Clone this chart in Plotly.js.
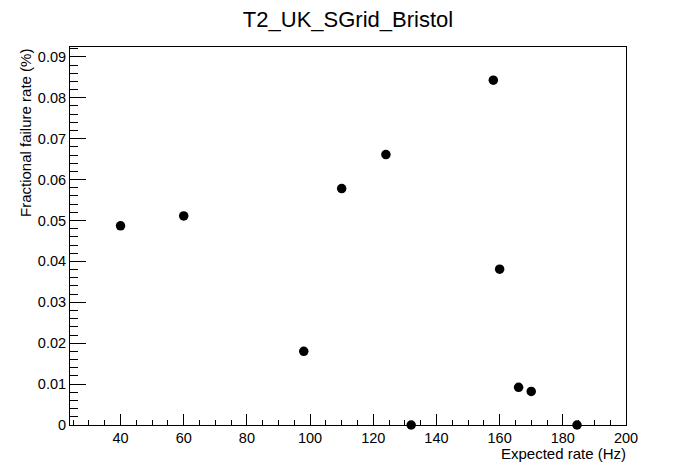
<!DOCTYPE html>
<html>
<head>
<meta charset="utf-8">
<script src="https://cdn.plot.ly/plotly-3.0.1.min.js"></script>
<style>html,body{margin:0;padding:0;background:#fff;}#chart{width:696px;height:472px;}</style>
</head>
<body>
<div id="chart"></div>
<script>
const chartTitle = "T2_UK_SGrid_Bristol";
const xTitle = "Expected rate (Hz)";
const yTitle = "Fractional failure rate (%)";
const expectedRate = [40, 60, 98, 110, 124, 132, 158, 160, 166, 170, 184.5];
const failureRate = [0.0487, 0.0511, 0.0180, 0.0578, 0.0661, 0.0, 0.0843, 0.0381, 0.0092, 0.0082, 0.0];
const xTickVals = [40, 60, 80, 100, 120, 140, 160, 180, 200];
const yTickVals = [0, 0.01, 0.02, 0.03, 0.04, 0.05, 0.06, 0.07, 0.08, 0.09];

const font = "Liberation Sans, Arial, Helvetica, sans-serif";

const trace = {
  x: expectedRate,
  y: failureRate,
  type: 'scatter',
  mode: 'markers',
  marker: {color: '#000', size: 9.5, symbol: 'circle'},
  cliponaxis: false,
  hoverinfo: 'x+y'
};

const layout = {
  width: 696, height: 472,
  margin: {l: 70, r: 70, t: 47, b: 47, pad: 0},
  paper_bgcolor: '#fff', plot_bgcolor: '#fff',
  showlegend: false,
  font: {family: font, color: '#000', size: 14},
  title: {text: chartTitle, x: 0.5, xanchor: 'center', y: 0.96, yanchor: 'middle', yref: 'container',
          font: {family: font, size: 22, color: '#000'}},
  xaxis: {
    range: [24, 200], showgrid: false, zeroline: false,
    showline: true, linecolor: '#000', linewidth: 1, mirror: true,
    ticks: 'inside', ticklen: 11, tickwidth: 1, tickcolor: '#000',
    tickvals: xTickVals, ticktext: xTickVals.map(String),
    tickfont: {family: font, size: 14.5, color: '#000'},
    minor: {dtick: 5, tick0: 0, ticks: 'inside', ticklen: 5.5, tickcolor: '#000', tickwidth: 1, showgrid: false}
  },
  yaxis: {
    range: [0, 0.0924], showgrid: false, zeroline: false,
    showline: true, linecolor: '#000', linewidth: 1, mirror: true,
    ticks: 'inside', ticklen: 16, tickwidth: 1, tickcolor: '#000',
    tickvals: yTickVals, ticktext: yTickVals.map(v => v === 0 ? '0' : v.toFixed(2)),
    tickfont: {family: font, size: 14.5, color: '#000'},
    minor: {dtick: 0.002, tick0: 0, ticks: 'inside', ticklen: 8, tickcolor: '#000', tickwidth: 1, showgrid: false}
  },
  annotations: [
    {text: xTitle, xref: 'paper', yref: 'paper', x: 1, y: 0, xanchor: 'right', yanchor: 'top',
     xshift: 2, yshift: -18, showarrow: false, font: {family: font, size: 15, color: '#000'}},
    {text: yTitle, xref: 'paper', yref: 'paper', x: 0, y: 1, xanchor: 'center', yanchor: 'top',
     xshift: -45, textangle: -90, showarrow: false, font: {family: font, size: 15, color: '#000'}}
  ]
};

Plotly.newPlot('chart', [trace], layout, {displayModeBar: false, staticPlot: true});
</script>
</body>
</html>
